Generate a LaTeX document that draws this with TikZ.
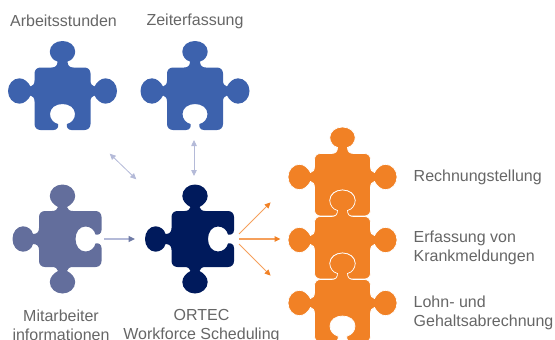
\documentclass[tikz,border=0pt]{standalone}
\usepackage{fontspec}
\setmainfont{Liberation Sans}
\usetikzlibrary{arrows.meta}
\definecolor{pieceblue}{HTML}{3D62AD}
\definecolor{piecegrey}{HTML}{636E9C}
\definecolor{piecenavy}{HTML}{001A5C}
\definecolor{pieceorange}{HTML}{F18125}
\definecolor{labelgrey}{HTML}{666666}
\definecolor{linklight}{HTML}{B4BAD8}
\definecolor{linkgrey}{HTML}{6F7BA6}
\newcommand{\piecepath}{
	(-22,-23.5) -- (-11,-23.5) .. controls (-7,-23.5) and (-5,-25.5) .. (-5,-29.5)
	.. controls (-9.5,-30.5) and (-12.7,-35) .. (-12.7,-39.5)
	.. controls (-12.7,-45.5) and (-7,-50) .. (0,-50)
	.. controls (7,-50) and (12.7,-45.5) .. (12.7,-39.5)
	.. controls (12.7,-35) and (9.5,-30.5) .. (5,-29.5)
	.. controls (5,-25.5) and (7,-23.5) .. (11,-23.5) -- (22,-23.5)
	.. controls (25.5,-23.5) and (28,-21) .. (28,-17.5) -- (28,-10.5)
	.. controls (28,-7) and (29.5,-5) .. (32,-4.5)
	.. controls (34,-8.5) and (38,-12.7) .. (43,-12.7)
	.. controls (49.5,-12.7) and (54.5,-7) .. (54.5,0)
	.. controls (54.5,7) and (49.5,12.7) .. (43,12.7)
	.. controls (38,12.7) and (34,8.5) .. (32,4.5)
	.. controls (29.5,5) and (28,7) .. (28,10.5) -- (28,33)
	.. controls (28,36.5) and (25.5,39) .. (22,39) -- (9,39)
	.. controls (5.5,39) and (3.5,36) .. (4.5,33)
	.. controls (9,32) and (12.5,28) .. (12.5,23)
	.. controls (12.5,17) and (7,13) .. (0,13)
	.. controls (-7,13) and (-12.5,17) .. (-12.5,23)
	.. controls (-12.5,28) and (-9,32) .. (-4.5,33)
	.. controls (-3.5,36) and (-5.5,39) .. (-9,39) -- (-22,39)
	.. controls (-25.5,39) and (-28,36.5) .. (-28,33) -- (-28,10.5)
	.. controls (-28,7) and (-29.5,5) .. (-32,4.5)
	.. controls (-34,8.5) and (-38,12.7) .. (-43,12.7)
	.. controls (-49.5,12.7) and (-54.5,7) .. (-54.5,0)
	.. controls (-54.5,-7) and (-49.5,-12.7) .. (-43,-12.7)
	.. controls (-38,-12.7) and (-34,-8.5) .. (-32,-4.5)
	.. controls (-29.5,-5) and (-28,-7) .. (-28,-10.5) -- (-28,-17.5)
	.. controls (-28,-21) and (-25.5,-23.5) .. (-22,-23.5) -- cycle
}
\newcommand{\makepiece}[4]{
	\fill[#4, shift={(#1,#2)}, rotate=#3] \piecepath;
}
\newcommand{\makeorange}[2]{
	\filldraw[pieceorange, draw=white, line width=0.7pt, shift={(#1,#2)}] \piecepath;
}
\tikzset{
	piecelabel/.style={text=labelgrey, font=\fontsize{16}{18.6}\selectfont, inner sep=0pt, align=center},
	sidelabel/.style={piecelabel, align=left, anchor=west},
	lightlink/.style={linklight, line width=0.8pt, {Triangle[length=6pt,width=5.5pt,sep=1pt]}-{Triangle[length=6pt,width=5.5pt,sep=1pt]}},
	greylink/.style={linklight, line width=1.2pt, -{Triangle[length=6.5pt,width=6pt,sep=2pt,fill=linkgrey,color=linkgrey]}},
	orangelink/.style={pieceorange!75!white, line width=0.8pt, -{Triangle[length=6pt,width=5.5pt,sep=0.5pt,fill=pieceorange,color=pieceorange]}},
}

\begin{document}
\begin{tikzpicture}[x=1pt,y=-1pt]
	\useasboundingbox (0,0) rectangle (555,340);

	\coordinate (arbeitEnd) at (109,153);
	\coordinate (ortecDiag) at (137,180);
	\coordinate (zeitEnd) at (194,139);
	\coordinate (ortecTop) at (194,177);
	\coordinate (mitarbeiterOut) at (104,239);
	\coordinate (ortecIn) at (137,239);
	\coordinate (ortecOutA) at (239,234);
	\coordinate (ortecOutB) at (239,239);
	\coordinate (ortecOutC) at (239,244);
	\coordinate (rechnungIn) at (271,202);
	\coordinate (erfassungIn) at (281,239);
	\coordinate (lohnIn) at (271,276);

	\makepiece{62.5}{91}{0}{pieceblue}
	\makepiece{195}{91}{0}{pieceblue}
	\makepiece{62.5}{239}{90}{piecegrey}
	\makepiece{195}{239}{90}{piecenavy}
	\makeorange{342.5}{177}
	\makeorange{342.5}{240}
	\makeorange{342.5}{303}

	\draw[lightlink] (arbeitEnd) -- (ortecDiag);
	\draw[lightlink] (zeitEnd) -- (ortecTop);
	\draw[greylink] (mitarbeiterOut) -- (ortecIn);
	\draw[orangelink] (ortecOutA) -- (rechnungIn);
	\draw[orangelink, line width=1.3pt] (ortecOutB) -- (erfassungIn);
	\draw[orangelink] (ortecOutC) -- (lohnIn);

	\node[piecelabel] (arbeitsstunden) at (63.5,21) {Arbeitsstunden};
	\node[piecelabel] (zeiterfassung) at (195,21.5) {Zeiterfassung};
	\node[piecelabel] (mitarbeiter) at (61,325) {Mitarbeiter\\informationen};
	\node[piecelabel] (ortec) at (201.5,326) {ORTEC\\Workforce Scheduling};
	\node[sidelabel] (rechnung) at (413.5,177) {Rechnungstellung};
	\node[sidelabel] (erfassung) at (413.5,248) {Erfassung von\\Krankmeldungen};
	\node[sidelabel] (lohn) at (413.5,313) {Lohn- und\\Gehaltsabrechnung};
\end{tikzpicture}
\end{document}
